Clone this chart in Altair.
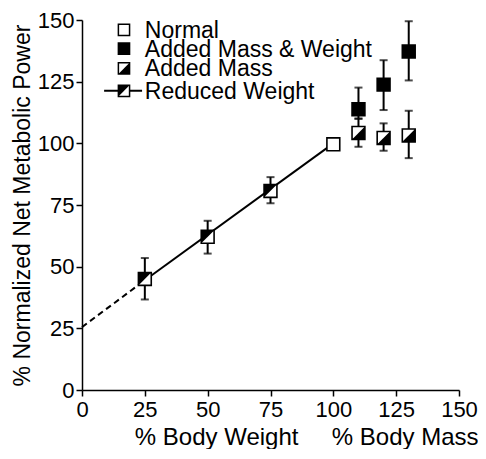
import altair as alt
import pandas as pd

# ---- data ----
groups = ["Normal", "Added Mass & Weight", "Added Mass", "Reduced Weight"]

normal_x = [100]
normal_y = [99.6]

amw_x = [110, 120, 130]
amw_y = [113.8, 123.8, 137.2]
amw_lo = [110.0, 113.5, 125.5]
amw_hi = [122.6, 133.7, 149.5]

am_x = [110, 120, 130]
am_y = [104.2, 102.2, 103.2]
am_lo = [98.6, 97.0, 94.0]
am_hi = [110.0, 108.1, 113.2]

rw_x = [25, 50, 75]
rw_y = [45.0, 62.1, 80.7]
rw_lo = [36.7, 55.3, 75.7]
rw_hi = [53.5, 68.6, 86.3]

fit_solid_x = [25, 100]
fit_solid_y = [44.5, 100.0]
fit_dash_x = [0, 25]
fit_dash_y = [25.5, 44.5]

ticks = [0, 25, 50, 75, 100, 125, 150]

legend_y = [146.0, 138.4, 130.4, 121.3]
legend_marker_x = 16.7
legend_text_x = 25.0
legend_line_x = [8.8, 23.9]

FONT = "Liberation Sans, Arial, sans-serif"

# ---- tables ----
rows = []
for g, xs, ys, los, his in [
    ("Normal", normal_x, normal_y, [None], [None]),
    ("Added Mass & Weight", amw_x, amw_y, amw_lo, amw_hi),
    ("Added Mass", am_x, am_y, am_lo, am_hi),
    ("Reduced Weight", rw_x, rw_y, rw_lo, rw_hi),
]:
    for x, y, lo, hi in zip(xs, ys, los, his):
        rows.append({"group": g, "x": x, "y": y, "lo": lo, "hi": hi})
pts = pd.DataFrame(rows)
err = pts.dropna(subset=["lo"])

fit_solid = pd.DataFrame({"x": fit_solid_x, "y": fit_solid_y})
fit_dash = pd.DataFrame({"x": fit_dash_x, "y": fit_dash_y})

leg = pd.DataFrame({"group": groups, "y": legend_y,
                    "mx": [legend_marker_x] * 4, "tx": [legend_text_x] * 4})
leg_line = pd.DataFrame({"x": legend_line_x, "y": [legend_y[3]] * 2})

xs = alt.Scale(domain=[0, 150], nice=False, zero=False)
ys = alt.Scale(domain=[0, 150], nice=False, zero=False)

axis_common = dict(
    values=ticks, format="d", grid=False, domainColor="black", domainWidth=1.5,
    tickColor="black", tickWidth=1.5, tickSize=6, labelFontSize=22,
    labelColor="black", labelFont=FONT, titleFont=FONT,
    titleFontWeight="normal", titleColor="black", labelFlush=False,
    labelOverlap=False, labelBound=False,
)

X = alt.X("x:Q", scale=xs, axis=alt.Axis(
    title="% Body Weight\u00a0\u00a0\u00a0\u00a0\u00a0% Body Mass",
    labelPadding=3, titleAlign="right", titleAnchor="end", titleX=396,
    titleY=54, titleBaseline="alphabetic", titleFontSize=24, **axis_common))
Y = alt.Y("y:Q", scale=ys, axis=alt.Axis(
    title="% Normalized Net Metabolic Power", labelPadding=2,
    titlePadding=3, titleFontSize=23, **axis_common))

base = alt.Chart(pts)

line_solid = alt.Chart(fit_solid).mark_line(color="black", strokeWidth=2).encode(x=X, y=Y)
line_dash = alt.Chart(fit_dash).mark_line(color="black", strokeWidth=2,
                                          strokeDash=[6, 4]).encode(x="x:Q", y="y:Q")

err_rule = alt.Chart(err).mark_rule(color="black", strokeWidth=2).encode(
    x="x:Q", y="lo:Q", y2="hi:Q")
cap_lo = alt.Chart(err).mark_tick(color="black", orient="horizontal", size=8,
                                  thickness=2).encode(x="x:Q", y="lo:Q")
cap_hi = alt.Chart(err).mark_tick(color="black", orient="horizontal", size=8,
                                  thickness=2).encode(x="x:Q", y="hi:Q")

fill_scale = alt.Scale(domain=groups, range=["white", "black", "white", "white"])

squares = base.mark_point(shape="square", size=165, filled=True, stroke="black",
                          strokeWidth=1.6, opacity=1).encode(
    x="x:Q", y="y:Q",
    fill=alt.Fill("group:N", scale=fill_scale, legend=None))

tri_am = alt.Chart(pts[pts.group == "Added Mass"]).mark_point(
    shape="M 1 -1 L 1 1 L -1 1 Z", size=165, filled=True, color="black",
    opacity=1).encode(x="x:Q", y="y:Q")
tri_rw = alt.Chart(pts[pts.group == "Reduced Weight"]).mark_point(
    shape="M -1 -1 L 1 -1 L -1 1 Z", size=165, filled=True, color="black",
    opacity=1).encode(x="x:Q", y="y:Q")

# ---- legend ----
leg_ln = alt.Chart(leg_line).mark_line(color="black", strokeWidth=2).encode(x="x:Q", y="y:Q")
leg_sq = alt.Chart(leg).mark_point(shape="square", size=125, filled=True,
                                   stroke="black", strokeWidth=1.5, opacity=1).encode(
    x="mx:Q", y="y:Q", fill=alt.Fill("group:N", scale=fill_scale, legend=None))
leg_tri_am = alt.Chart(leg[leg.group == "Added Mass"]).mark_point(
    shape="M 1 -1 L 1 1 L -1 1 Z", size=125, filled=True, color="black",
    opacity=1).encode(x="mx:Q", y="y:Q")
leg_tri_rw = alt.Chart(leg[leg.group == "Reduced Weight"]).mark_point(
    shape="M -1 -1 L 1 -1 L -1 1 Z", size=125, filled=True, color="black",
    opacity=1).encode(x="mx:Q", y="y:Q")
leg_txt = alt.Chart(leg).mark_text(align="left", baseline="middle", font=FONT,
                                   fontSize=23, color="black", dy=1).encode(
    x="tx:Q", y="y:Q", text="group:N")

chart = alt.layer(
    line_solid, line_dash, err_rule, cap_lo, cap_hi, squares, tri_am, tri_rw,
    leg_ln, leg_sq, leg_tri_am, leg_tri_rw, leg_txt,
).properties(
    width=377, height=370,
    autosize=alt.AutoSizeParams(type="none"),
    padding={"left": 74, "top": 12, "right": 19, "bottom": 59},
    background="white",
).configure_view(stroke=None)

chart.save("out.html", embed_options={"renderer": "svg", "actions": False})
